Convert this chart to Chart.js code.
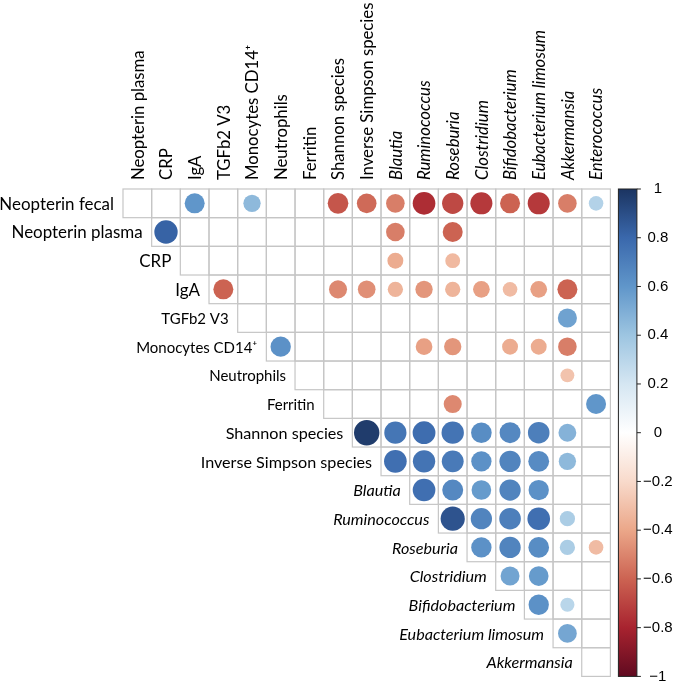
<!DOCTYPE html>
<html><head><meta charset="utf-8">
<script src="https://cdn.jsdelivr.net/npm/chart.js@4.4.1/dist/chart.umd.min.js"></script>
<style>html,body{margin:0;padding:0;background:#fff}#wrap{width:675px;height:683px;position:relative}</style>
</head><body><div id="wrap"><canvas id="c"></canvas></div>
<script>
// ---------- DATA ----------
const rowLabels = ["Neopterin fecal","Neopterin plasma","CRP","IgA","TGFb2 V3","Monocytes CD14⁺","Neutrophils","Ferritin","Shannon species","Inverse Simpson species","Blautia","Ruminococcus","Roseburia","Clostridium","Bifidobacterium","Eubacterium limosum","Akkermansia"];
const colLabels = ["Neopterin plasma","CRP","IgA","TGFb2 V3","Monocytes CD14⁺","Neutrophils","Ferritin","Shannon species","Inverse Simpson species","Blautia","Ruminococcus","Roseburia","Clostridium","Bifidobacterium","Eubacterium limosum","Akkermansia","Enterococcus"];
const italicLabels = ["Blautia","Ruminococcus","Roseburia","Clostridium","Bifidobacterium","Eubacterium limosum","Akkermansia","Enterococcus"];

// each row r holds the correlations for columns r..16 (null = not shown)
const rowNeopterinFecal   = [null,null,0.60,null,0.45,null,null,-0.64,-0.58,-0.52,-0.77,-0.68,-0.73,-0.60,-0.73,-0.52,0.32];
const rowNeopterinPlasma  = [0.82,null,null,null,null,null,null,null,-0.52,null,-0.60,null,null,null,null,null];
const rowCRP              = [null,null,null,null,null,null,null,-0.38,null,-0.33,null,null,null,null,null];
const rowIgA              = [-0.60,null,null,null,-0.49,-0.47,-0.35,-0.45,-0.35,-0.42,-0.32,-0.42,-0.60,null];
const rowTGFb2            = [null,null,null,null,null,null,null,null,null,null,null,0.55,null];
const rowMonocytes        = [0.62,null,null,null,null,-0.42,-0.45,null,-0.38,-0.38,-0.52,null];
const rowNeutrophils      = [null,null,null,null,null,null,null,null,null,-0.29,null];
const rowFerritin         = [null,null,null,null,-0.49,null,null,null,null,0.60];
const rowShannon          = [0.97,0.74,0.78,0.75,0.64,0.66,0.70,0.48,null];
const rowInvSimpson       = [0.77,0.75,0.72,0.62,0.68,0.65,0.45,null];
const rowBlautia          = [0.77,0.66,0.58,0.68,0.62,null,null];
const rowRuminococcus     = [0.88,0.68,0.70,0.77,0.35,null];
const rowRoseburia        = [0.62,0.68,0.64,0.35,-0.32];
const rowClostridium      = [0.54,0.58,null,null];
const rowBifidobacterium  = [0.62,0.30,null];
const rowEubacterium      = [0.53,null];
const rowAkkermansia      = [null];
const rowValues = [rowNeopterinFecal,rowNeopterinPlasma,rowCRP,rowIgA,rowTGFb2,rowMonocytes,rowNeutrophils,rowFerritin,rowShannon,rowInvSimpson,rowBlautia,rowRuminococcus,rowRoseburia,rowClostridium,rowBifidobacterium,rowEubacterium,rowAkkermansia];

const colorbarTicks = [1,0.8,0.6,0.4,0.2,0,-0.2,-0.4,-0.6,-0.8,-1];

// ---------- STYLE ----------
const paletteStops = [-1,-0.8,-0.6,-0.4,-0.2,0,0.2,0.4,0.6,0.8,1];
const paletteColors = ["#600a20","#a8232f","#cc6352","#eba789","#f8dacb","#ffffff","#d5e6f2","#9dc5e1","#6096ca","#3a68ac","#1b3461"];
const topLabelWidths = [134,28,23,57,123,87,54,114,172,52,105,74,82,117,162,97,94];
const rowLabelWidths = [114,134,29,26,63,120,81,49,112,168,47,97,66,76,103,157,88];
const rowLabelGroups = [0,0,0,0,1,1,1,1,2,2,2,2,2,2,2,2,2];
const labelFont = "Lato, 'Open Sans', sans-serif";

function hexToRgb(h){return [parseInt(h.slice(1,3),16),parseInt(h.slice(3,5),16),parseInt(h.slice(5,7),16)];}
function colorFor(v){
  v = Math.max(-1, Math.min(1, v));
  for (let i=0;i<paletteStops.length-1;i++){
    if (v>=paletteStops[i] && v<=paletteStops[i+1]){
      const t=(v-paletteStops[i])/(paletteStops[i+1]-paletteStops[i]);
      const a=hexToRgb(paletteColors[i]), b=hexToRgb(paletteColors[i+1]);
      return `rgb(${Math.round(a[0]+(b[0]-a[0])*t)},${Math.round(a[1]+(b[1]-a[1])*t)},${Math.round(a[2]+(b[2]-a[2])*t)})`;
    }
  }
  return paletteColors[paletteColors.length-1];
}

const points = [];
rowValues.forEach((vals, r) => {
  vals.forEach((v, k) => { if (v !== null) points.push({x: r + k, y: r, v: v}); });
});

function cellSize(chart){
  const xs = chart.scales.x;
  return Math.abs(xs.getPixelForValue(1) - xs.getPixelForValue(0));
}
function fontStr(size, italic){ return (italic ? "italic " : "") + size.toFixed(2) + "px " + labelFont; }
// one font size per group, so that the group's total text width matches the reference
function groupSizes(ctx, labels, widths, groups){
  const base = 20, meas = {}, targ = {};
  labels.forEach((lab, i) => {
    ctx.font = fontStr(base, italicLabels.includes(lab));
    const g = groups[i];
    meas[g] = (meas[g] || 0) + ctx.measureText(lab).width;
    targ[g] = (targ[g] || 0) + widths[i];
  });
  return labels.map((lab, i) => base * targ[groups[i]] / meas[groups[i]]);
}

const gridPlugin = {
  id: 'grid',
  beforeDatasetsDraw(chart){
    const {ctx, scales:{x, y}} = chart;
    ctx.save();
    ctx.strokeStyle = '#c6c6c6';
    ctx.lineWidth = 1.2;
    for (let r=0; r<rowLabels.length; r++){
      for (let c=r; c<colLabels.length; c++){
        const x0 = x.getPixelForValue(c-0.5), x1 = x.getPixelForValue(c+0.5);
        const y0 = y.getPixelForValue(r-0.5), y1 = y.getPixelForValue(r+0.5);
        ctx.strokeRect(x0, Math.min(y0,y1), x1-x0, Math.abs(y1-y0));
      }
    }
    ctx.restore();
  }
};

const labelPlugin = {
  id: 'labels',
  afterDraw(chart){
    const {ctx, scales:{x, y}, chartArea} = chart;
    ctx.save();
    ctx.fillStyle = '#000';
    // row labels
    const rs = groupSizes(ctx, rowLabels, rowLabelWidths, rowLabelGroups);
    ctx.textAlign = 'right';
    ctx.textBaseline = 'middle';
    rowLabels.forEach((lab, r) => {
      ctx.font = fontStr(rs[r], italicLabels.includes(lab));
      ctx.fillText(lab, x.getPixelForValue(r-0.5) - 9, y.getPixelForValue(r) + 1);
    });
    // column labels
    const cs = groupSizes(ctx, colLabels, topLabelWidths, colLabels.map(() => 0));
    colLabels.forEach((lab, c) => {
      ctx.save();
      ctx.translate(x.getPixelForValue(c) + 1, chartArea.top - 9);
      ctx.rotate(-Math.PI/2);
      ctx.textAlign = 'left';
      ctx.textBaseline = 'middle';
      ctx.font = fontStr(cs[c], italicLabels.includes(lab));
      ctx.fillText(lab, 0, 0);
      ctx.restore();
    });
    // colorbar
    const left = chartArea.right + 8, width = 18.5;
    const top = chartArea.top, bottom = chartArea.bottom;
    const grad = ctx.createLinearGradient(0, top, 0, bottom);
    paletteStops.forEach((s, i) => grad.addColorStop((1 - s)/2, paletteColors[i]));
    ctx.fillStyle = grad;
    ctx.fillRect(left, top, width, bottom - top);
    ctx.strokeStyle = '#222';
    ctx.lineWidth = 1;
    ctx.strokeRect(left, top, width, bottom - top);
    ctx.fillStyle = '#000';
    ctx.font = "15px 'Liberation Sans', Arial, sans-serif";
    ctx.textAlign = 'center';
    ctx.textBaseline = 'middle';
    colorbarTicks.forEach(t => {
      const ty = top + (1 - t)/2 * (bottom - top);
      ctx.beginPath();
      ctx.moveTo(left + width, ty);
      ctx.lineTo(left + width + 4, ty);
      ctx.stroke();
      const txt = (t < 0 ? "\u2212" : "") + String(Math.abs(t));
      ctx.fillText(txt, left + width + 21, ty);
    });
    ctx.restore();
  }
};

new Chart(document.getElementById('c'), {
  type: 'scatter',
  data: {
    datasets: [{
      data: points,
      pointRadius: ctx => {
        const p = ctx.raw; if (!p) return 0;
        return 0.45 * cellSize(ctx.chart) * Math.sqrt(Math.abs(p.v));
      },
      pointBackgroundColor: ctx => ctx.raw ? colorFor(ctx.raw.v) : '#fff',
      pointBorderWidth: 0,
      pointBorderColor: 'rgba(0,0,0,0)',
      pointHoverRadius: ctx => ctx.raw ? 0.45 * cellSize(ctx.chart) * Math.sqrt(Math.abs(ctx.raw.v)) : 0,
      clip: false
    }]
  },
  options: {
    responsive: true,
    maintainAspectRatio: false,
    animation: false,
    events: [],
    layout: { padding: { left: 123, top: 189, right: 64.6, bottom: 6.6 } },
    scales: {
      x: { type: 'linear', min: -0.5, max: 16.5, display: false },
      y: { type: 'linear', min: -0.5, max: 16.5, reverse: true, display: false }
    },
    plugins: { legend: { display: false }, tooltip: { enabled: false } }
  },
  plugins: [gridPlugin, labelPlugin]
});
</script>
</body></html>
